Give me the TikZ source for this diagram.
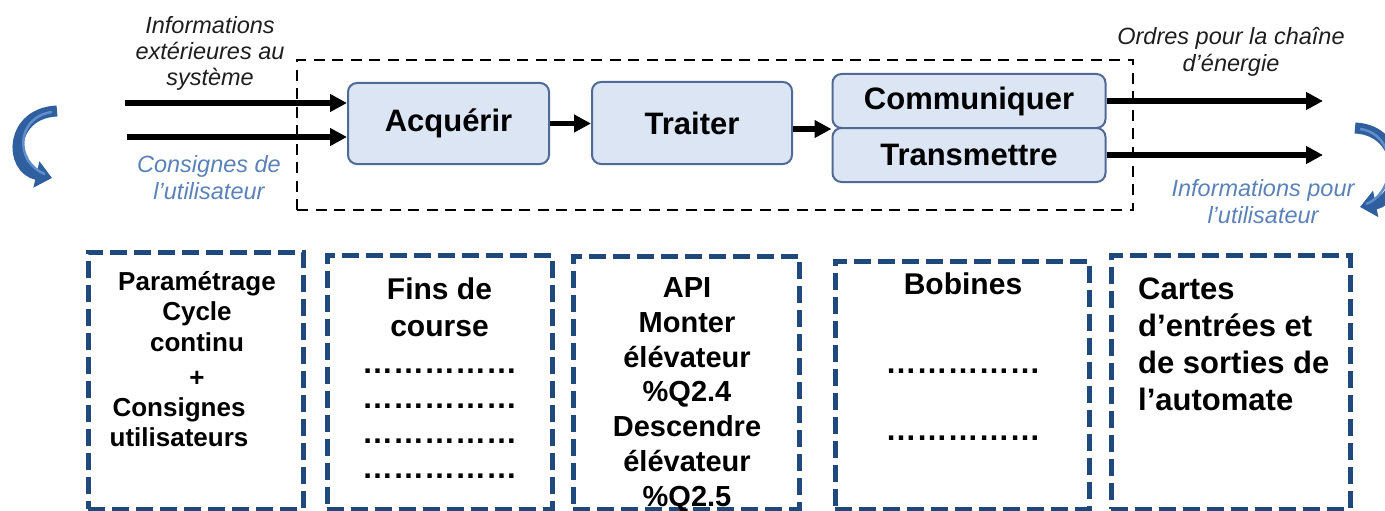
\documentclass[tikz,border=0pt]{standalone}
\usepackage{fontspec}
\setmainfont{Liberation Sans}
\usetikzlibrary{arrows.meta}
\definecolor{boxfill}{HTML}{DCE5F4}
\definecolor{boxline}{HTML}{4F6A95}
\definecolor{dblue}{HTML}{1F497D}
\definecolor{lblue}{HTML}{5B82B8}
\definecolor{carrow}{HTML}{2F5F9E}
\definecolor{chigh}{HTML}{5E8ECC}
\definecolor{itdark}{HTML}{1E1E1E}
\begin{document}
\begin{tikzpicture}[x=1pt,y=-1pt,
  fblk/.style={draw=boxline, fill=boxfill, line width=2pt, rounded corners=9pt, inner sep=0pt, font=\fontsize{31}{31}\selectfont\bfseries},
  flow/.style={line width=5.5pt, -{Triangle[length=17pt,width=17pt]}},
  sysbox/.style={draw, line width=2.5pt, dash pattern=on 11pt off 7.5pt, inner sep=0pt},
  tbox/.style={draw=dblue, line width=5pt, dash pattern=on 17pt off 7pt, inner sep=0pt},
  ilab/.style={font=\fontsize{23.5}{26}\selectfont\itshape, text=itdark, align=center, inner sep=0pt, anchor=base},
  blab/.style={ilab, text=lblue, font=\fontsize{23.5}{27}\selectfont\itshape},
  ttxt/.style={inner sep=0pt, align=center, anchor=base},
  curv/.style={carrow, line width=11pt, -{Triangle[length=16pt,width=26pt]}},
]
\useasboundingbox (0,0) rectangle (1385,511);

% system frame
\node[sysbox, minimum width=836pt, minimum height=150pt] (sys) at (715,135) {};

% function blocks
\node[fblk, minimum width=201pt, minimum height=81pt] (acq) at (448.5,123.5) {Acquérir};
\node[fblk, minimum width=200pt, minimum height=82pt] (tra) at (692,123) {Traiter};
\node[fblk, minimum width=273pt, minimum height=54pt] (com) at (969,101) {Communiquer};
\node[fblk, minimum width=273pt, minimum height=54pt] (trm) at (969,155) {Transmettre};

% flows
\coordinate (i1) at (125,103);
\coordinate (i2) at (127,137);
\coordinate (o1) at (1323,101);
\coordinate (o2) at (1323,155);
\draw[flow] (i1) -- (i1 -| acq.west);
\draw[flow] (i2) -- (i2 -| acq.west);
\draw[flow] (acq.east) -- (acq.east -| tra.west);
\draw[flow] (tra.east |- com.south west) -- (com.south west);
\draw[flow] (com.east) -- (o1);
\draw[flow] (trm.east) -- (o2);

% labels (anchor = baseline of last line)
\node[ilab] (lin) at (210,85) {Informations\\extérieures au\\système};
\node[blab] (lcons) at (209,199) {Consignes de\\l’utilisateur};
\node[ilab] (lord) at (1231,71) {Ordres pour la chaîne\\d’énergie};
\node[blab] (linf) at (1263,223) {Informations pour\\l’utilisateur};

% curved arrows
\draw[curv] (57,111) .. controls (10,113) and (8,168) .. (52,178);
\draw[chigh, line width=2.5pt] (52,112) .. controls (16,117) and (14,162) .. (45,174);
\draw[curv] (1355,128) .. controls (1405,130) and (1405,198) .. (1360,207);
\draw[chigh, line width=2.5pt] (1360,129) .. controls (1398,134) and (1398,192) .. (1366,204);

% lower boxes
\node[tbox, minimum width=215pt, minimum height=257pt] (b1) at (195.5,380.5) {};
\node[tbox, minimum width=225pt, minimum height=254pt] (b2) at (439.5,382) {};
\node[tbox, minimum width=226pt, minimum height=253pt] (b3) at (686,382.5) {};
\node[tbox, minimum width=254pt, minimum height=248pt] (b4) at (962,385) {};
\node[tbox, minimum width=239pt, minimum height=254pt] (b5) at (1230.5,382) {};

% texts of lower boxes (anchor = baseline of last line)
\node[ttxt, font=\fontsize{26}{30.5}\selectfont\bfseries] (p1) at (197,351) {Paramétrage\\Cycle\\continu};
\node[ttxt, font=\fontsize{26}{30.5}\selectfont\bfseries] (p2) at (197,386) {+};
\node[ttxt, font=\fontsize{26}{30}\selectfont\bfseries] (p3) at (179,446) {Consignes\\utilisateurs};

\node[ttxt, font=\fontsize{30}{37}\selectfont\bfseries] (f1) at (439.5,336) {Fins de\\course};
\node[ttxt, font=\fontsize{31}{35}\selectfont\bfseries] (f2) at (439.5,478) {……………\\……………\\……………\\……………};

\node[ttxt, font=\fontsize{29}{34.7}\selectfont\bfseries] (a1) at (687,506) {API\\Monter\\élévateur\\\%Q2.4\\Descendre\\élévateur\\\%Q2.5};

\node[ttxt, font=\fontsize{30}{30}\selectfont\bfseries] (bo1) at (963,294) {Bobines};
\node[ttxt, font=\fontsize{31}{67}\selectfont\bfseries] (bo2) at (963,440) {……………\\……………};

\node[inner sep=0pt, align=left, anchor=base west, font=\fontsize{31}{37}\selectfont\bfseries] (c1) at (1138,410) {Cartes\\d’entrées et\\de sorties de\\l’automate};
\end{tikzpicture}
\end{document}
